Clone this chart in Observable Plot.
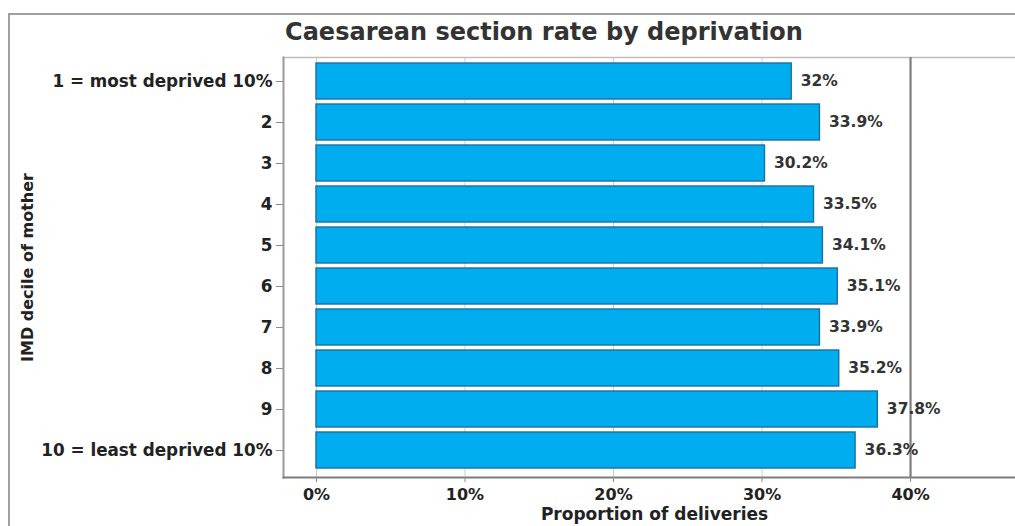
<!DOCTYPE html>
<html>
<head>
<meta charset="utf-8">
<script src="https://cdn.jsdelivr.net/npm/d3@7"></script>
<script src="https://cdn.jsdelivr.net/npm/@observablehq/plot@0.6"></script>
<style>
  html, body { margin: 0; padding: 0; background: #fff; overflow: hidden; width: 1015px; height: 526px; }
  #wrap { position: relative; width: 1015px; height: 526px; overflow: hidden; background: #fff; font-family: "DejaVu Sans", sans-serif; }
  .edge { position: absolute; background: #a0a0a0; }
  #edgeTop { left: 8px; top: 13px; width: 1100px; height: 2px; }
  #edgeLeft { left: 8px; top: 13px; width: 2px; height: 600px; }
  #title { position: absolute; left: 283px; top: 18px; width: 522px; text-align: center; font-size: 24px; font-weight: 700; color: #333; white-space: nowrap; }
  #chart { position: absolute; left: 0; top: 55px; width: 1015px; height: 471px; overflow: hidden; }
  #chart svg { max-width: none !important; display: block; }
</style>
</head>
<body>
<div id="wrap">
  <div class="edge" id="edgeTop"></div>
  <div class="edge" id="edgeLeft"></div>
  <div id="title">Caesarean section rate by deprivation</div>
  <div id="chart"></div>
</div>
<script>
// IMD deciles of the mother and the caesarean rate (%) in each
const deciles = [
  "1 = most deprived 10%", "2", "3", "4", "5",
  "6", "7", "8", "9", "10 = least deprived 10%"
];
const rates = [32, 33.9, 30.2, 33.5, 34.1, 35.1, 33.9, 35.2, 37.8, 36.3];
const xTicks = [0, 10, 20, 30, 40];
const gridTicks = [0, 10, 20, 30];
const refLine = [40];

const data = deciles.map((d, i) => ({decile: d, rate: rates[i]}));

const font = "'DejaVu Sans', sans-serif";
const width = 1025;   // right edge of the panel runs off the page
const height = 471;

const chart = Plot.plot({
  width,
  height,
  marginLeft: 283,
  marginRight: 0,
  marginTop: 2,
  marginBottom: 49,
  style: {fontFamily: font, color: "#222", background: "transparent", overflow: "visible", maxWidth: "none"},
  x: {domain: [-2.22, 47.74]},
  y: {domain: deciles, paddingInner: 0.12, paddingOuter: 0, insetTop: 6, insetBottom: 8},
  marks: [
    Plot.ruleX(gridTicks, {stroke: "#cfcfcf", strokeWidth: 1}),
    Plot.frame({anchor: "top", stroke: "#bdbdbd", strokeWidth: 1.5}),
    Plot.frame({anchor: "left", stroke: "#9a9a9a", strokeWidth: 2}),
    Plot.ruleX(refLine, {stroke: "#7d7d7d", strokeWidth: 2.2}),
    Plot.barX(data, {
      x: "rate", y: "decile",
      fill: "#00adee", stroke: "#1b6fa6", strokeWidth: 1.4
    }),
    Plot.text(data, {
      x: "rate", y: "decile",
      text: d => `${d.rate}%`,
      textAnchor: "start", dx: 9,
      fontSize: 15.5, fontWeight: 700, fill: "#333"
    }),
    Plot.frame({anchor: "bottom", stroke: "#7d7d7d", strokeWidth: 2}),
    Plot.axisY({
      tickSize: 7, tickPadding: 4, stroke: "#8a8a8a",
      fontSize: 16.8, fontWeight: 700,
      label: "IMD decile of mother", labelAnchor: "center", labelOffset: 262
    }),
    Plot.axisX({
      ticks: xTicks, tickFormat: d => `${d}%`,
      tickSize: 5, tickPadding: 6, stroke: "#8a8a8a",
      fontSize: 16, fontWeight: 700,
      label: "Proportion of deliveries", labelArrow: "none",
      labelAnchor: "center", labelOffset: 42
    })
  ]
});

// axis titles: the x title a touch larger, the y title a touch smaller than the ticks
d3.select(chart).selectAll("[aria-label='x-axis label'] text").attr("font-size", 17);
d3.select(chart).selectAll("[aria-label='y-axis label'] text").attr("font-size", 16);

document.getElementById("chart").appendChild(chart);
</script>
</body>
</html>
